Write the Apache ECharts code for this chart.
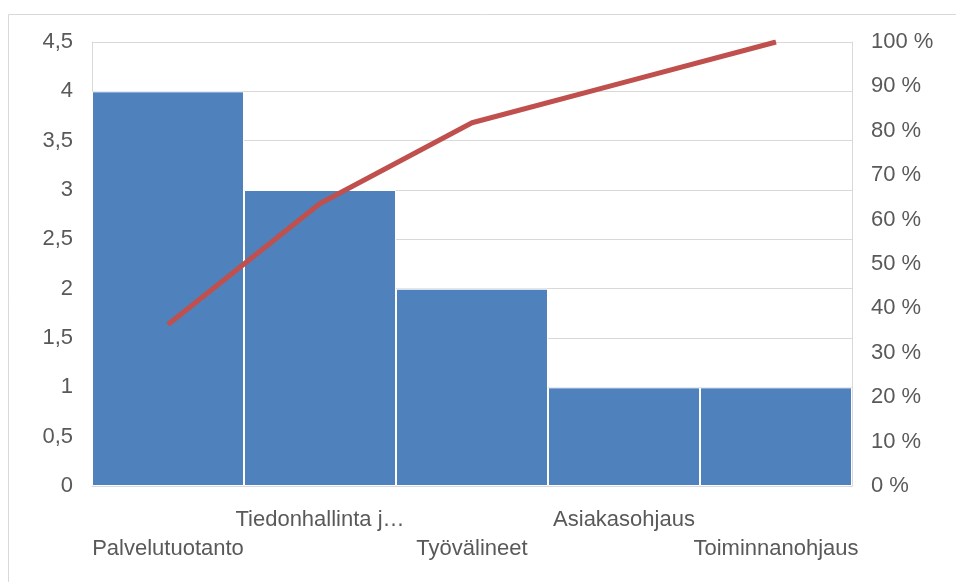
<!DOCTYPE html>
<html>
<head>
<meta charset="utf-8">
<script src="https://cdn.jsdelivr.net/npm/echarts@6/dist/echarts.min.js"></script>
<style>
  html, body { margin: 0; padding: 0; background: #fff; }
  #chart { width: 956px; height: 582px; }
</style>
</head>
<body>
<div id="chart"></div>
<script>
// data
const categories = ['Palvelutuotanto', 'Tiedonhallinta j…', 'Työvälineet', 'Asiakasohjaus', 'Toiminnanohjaus']
const counts = [4, 3, 2, 1, 1]
const cumulative = [0.3636, 0.6364, 0.8182, 0.9091, 1.0]

const myChart = echarts.init(document.getElementById('chart'))

const textColor = '#595959'
const lineGray = '#d9d9d9'
const font = 'Liberation Sans, Arial, sans-serif'

const option = {
    animation: false,
    backgroundColor: '#fff',
    graphic: [{
        type: 'rect',
        shape: { x: 8.5, y: 14.5, width: 1000, height: 1000 },
        style: { fill: 'none', stroke: lineGray, lineWidth: 1 }
    }],
    grid: { left: 92, right: 104, top: 42, bottom: 96 },
    xAxis: {
        type: 'category',
        data: categories,
        axisTick: { show: false },
        axisLine: { lineStyle: { color: lineGray } },
        axisLabel: {
            color: textColor,
            fontFamily: font,
            fontSize: 22,
            lineHeight: 29,
            margin: 19,
            interval: 0,
            // Excel-style staggered labels
            formatter: (v, i) => (i % 2 === 0 ? '\n' : '') + v
        }
    },
    yAxis: [{
        type: 'value',
        min: 0,
        max: 4.5,
        interval: 0.5,
        axisLine: { show: true, lineStyle: { color: lineGray } },
        axisTick: { show: false },
        splitLine: { lineStyle: { color: lineGray } },
        axisLabel: {
            color: textColor,
            fontFamily: font,
            fontSize: 22,
            margin: 19,
            formatter: v => String(v).replace('.', ',')
        }
    }, {
        type: 'value',
        min: 0,
        max: 1,
        interval: 0.1,
        axisLine: { show: true, lineStyle: { color: lineGray } },
        axisTick: { show: false },
        splitLine: { show: false },
        axisLabel: {
            color: textColor,
            fontFamily: font,
            fontSize: 22,
            margin: 19,
            formatter: v => Math.round(v * 100) + ' %'
        }
    }],
    series: [{
        type: 'bar',
        data: counts,
        barCategoryGap: 0,
        itemStyle: { color: '#4f81bd', borderColor: '#fff', borderWidth: 1 }
    }, {
        type: 'line',
        yAxisIndex: 1,
        data: cumulative,
        symbol: 'none',
        lineStyle: { color: '#c0504d', width: 5 }
    }]
}

myChart.setOption(option)
</script>
</body>
</html>
